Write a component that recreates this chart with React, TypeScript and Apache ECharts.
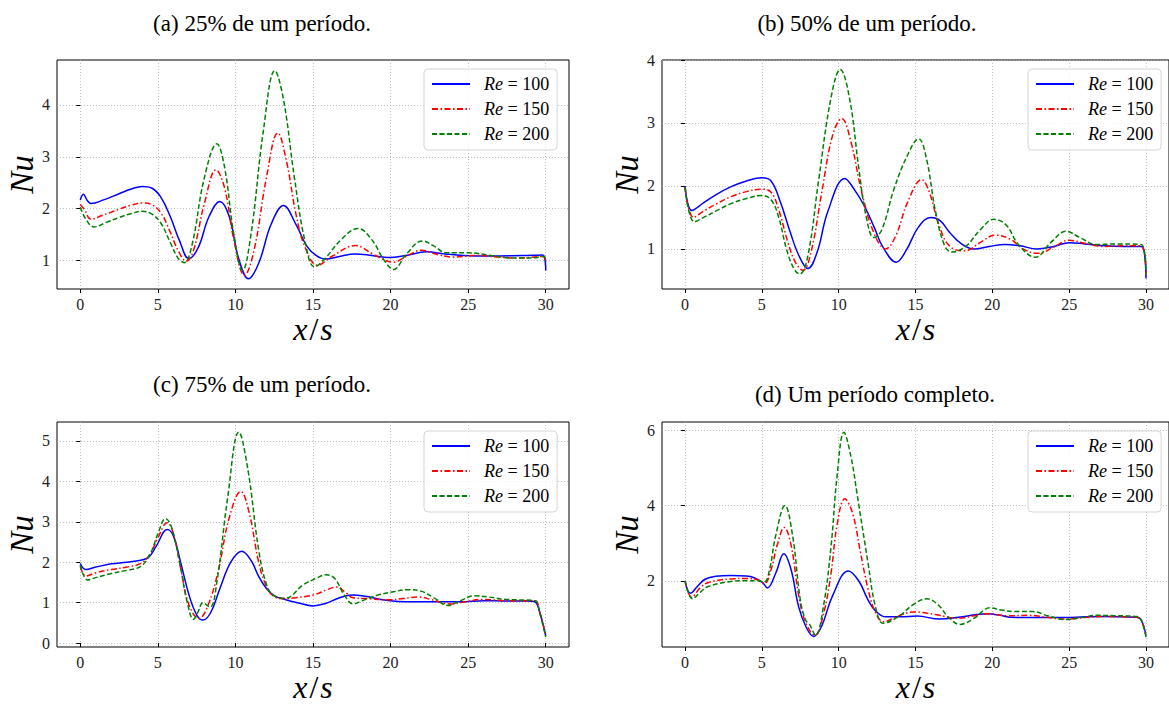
import { useEffect, useRef } from 'react';
import * as echarts from 'echarts';

type P = [number, number][];

const seriesNames = ['Re = 100', 'Re = 150', 'Re = 200'];
const panelTitles = ['(a) 25% de um período.', '(b) 50% de um período.', '(c) 75% de um período.', '(d) Um período completo.'];
const xTicks = [0, 5, 10, 15, 20, 25, 30];
const yTicksA = [1, 2, 3, 4];
const yTicksB = [1, 2, 3, 4];
const yTicksC = [0, 1, 2, 3, 4, 5];
const yTicksD = [2, 4, 6];
const xRange = [-1.5, 31.5];
const yRangeA = [0.454, 4.865];
const yRangeB = [0.364, 4.0];
const yRangeC = [-0.097, 5.47];
const yRangeD = [0.238, 6.225];

// (a) 25%
const a100: P = [[0, 2.17], [0.2, 2.28], [0.45, 2.16], [0.7, 2.1], [1.5, 2.17], [2.5, 2.29], [3.3, 2.38], [4.0, 2.43], [4.6, 2.4], [5.2, 2.22], [5.8, 1.85], [6.4, 1.38], [7.0, 1.04], [7.6, 1.25], [8.3, 1.85], [9.0, 2.14], [9.6, 1.85], [10.2, 1.05], [10.85, 0.65], [11.5, 0.95], [12.3, 1.7], [13.1, 2.06], [13.9, 1.7], [14.6, 1.28], [15.2, 1.1], [15.8, 1.03], [16.7, 1.08], [17.7, 1.13], [18.8, 1.1], [19.9, 1.06], [21.0, 1.1], [22.3, 1.17], [23.5, 1.13], [24.7, 1.1], [26.5, 1.09], [28.5, 1.1], [29.8, 1.11], [30, 0.81]];
const a150: P = [[0, 2.08], [0.3, 1.97], [0.67, 1.8], [1.5, 1.88], [2.5, 1.99], [3.3, 2.07], [4.0, 2.11], [4.6, 2.08], [5.2, 1.92], [5.8, 1.55], [6.3, 1.2], [6.83, 0.99], [7.3, 1.2], [8.0, 2.1], [8.75, 2.75], [9.3, 2.4], [9.9, 1.4], [10.58, 0.72], [11.2, 1.2], [12.0, 2.6], [12.73, 3.46], [13.3, 2.9], [13.9, 1.9], [14.5, 1.25], [15.3, 0.91], [16.2, 1.08], [17.75, 1.29], [18.9, 1.12], [20.2, 0.97], [21.0, 1.08], [22.0, 1.2], [23.0, 1.12], [24.0, 1.07], [25.5, 1.1], [27.0, 1.07], [28.3, 1.05], [29.8, 1.08], [30, 1.02]];
const a200: P = [[0, 2.03], [0.4, 1.78], [0.9, 1.65], [1.7, 1.74], [2.5, 1.83], [3.3, 1.91], [4.0, 1.95], [4.6, 1.9], [5.2, 1.72], [5.8, 1.35], [6.3, 1.05], [6.7, 0.96], [7.2, 1.3], [8.0, 2.6], [8.8, 3.25], [9.3, 2.8], [9.9, 1.5], [10.46, 0.81], [11.0, 1.5], [11.8, 3.5], [12.54, 4.66], [13.1, 4.1], [13.8, 2.6], [14.5, 1.35], [15.1, 0.88], [15.8, 1.05], [16.8, 1.4], [17.9, 1.62], [18.8, 1.4], [19.6, 1.0], [20.2, 0.83], [21.0, 1.12], [22.05, 1.38], [22.8, 1.28], [23.6, 1.15], [25.0, 1.15], [26.5, 1.1], [27.8, 1.05], [29.0, 1.05], [29.9, 1.08], [30, 0.98]];

// (b) 50%
const b100: P = [[0, 2.0], [0.44, 1.61], [1.2, 1.73], [2.0, 1.86], [3.0, 1.99], [4.0, 2.08], [5.0, 2.13], [5.6, 2.08], [6.2, 1.75], [6.8, 1.3], [7.4, 0.9], [8.0, 0.69], [8.6, 0.95], [9.3, 1.6], [10.4, 2.12], [11.0, 1.95], [11.7, 1.67], [12.3, 1.35], [12.9, 1.02], [13.75, 0.79], [14.4, 0.98], [15.2, 1.35], [16.0, 1.5], [16.6, 1.45], [17.2, 1.27], [18.0, 1.08], [18.8, 1.0], [19.8, 1.04], [20.8, 1.07], [21.8, 1.05], [22.9, 1.0], [24.0, 1.04], [25.0, 1.1], [26.0, 1.08], [27.3, 1.05], [28.5, 1.04], [29.7, 1.04], [30, 0.53]];
const b150: P = [[0, 1.98], [0.55, 1.5], [1.2, 1.6], [2.0, 1.71], [3.0, 1.83], [4.0, 1.91], [5.0, 1.95], [5.6, 1.9], [6.1, 1.62], [6.7, 1.1], [7.2, 0.78], [7.67, 0.66], [8.2, 0.95], [8.9, 1.9], [9.6, 2.8], [10.2, 3.07], [10.8, 2.7], [11.5, 1.9], [12.3, 1.25], [13.05, 1.0], [13.7, 1.2], [14.5, 1.75], [15.4, 2.1], [15.9, 1.9], [16.5, 1.4], [17.2, 1.05], [18.2, 0.97], [19.2, 1.1], [20.2, 1.22], [21.2, 1.15], [22.0, 1.0], [23.0, 0.93], [24.0, 1.03], [25.0, 1.14], [26.0, 1.09], [27.3, 1.04], [28.5, 1.05], [29.7, 1.05], [30, 0.6]];
const b200: P = [[0, 1.98], [0.6, 1.43], [1.2, 1.5], [2.0, 1.6], [3.0, 1.72], [4.0, 1.8], [5.0, 1.85], [5.6, 1.78], [6.1, 1.5], [6.6, 1.0], [7.1, 0.68], [7.47, 0.6], [8.0, 0.9], [8.7, 2.1], [9.5, 3.4], [10.1, 3.85], [10.7, 3.4], [11.3, 2.3], [11.8, 1.5], [12.3, 1.18], [12.8, 1.3], [13.6, 1.95], [14.5, 2.5], [15.2, 2.75], [15.7, 2.45], [16.3, 1.6], [16.9, 1.05], [17.4, 0.95], [18.3, 1.05], [19.2, 1.3], [20.1, 1.47], [20.9, 1.38], [21.7, 1.07], [22.8, 0.87], [23.8, 1.1], [24.8, 1.28], [25.7, 1.18], [26.8, 1.07], [28.0, 1.08], [29.7, 1.07], [30, 0.6]];

// (c) 75%
const c100: P = [[0, 1.97], [0.36, 1.82], [1.0, 1.88], [2.0, 1.96], [3.0, 2.0], [3.9, 2.05], [4.4, 2.12], [4.9, 2.4], [5.6, 2.81], [6.0, 2.65], [6.5, 1.95], [7.0, 1.2], [7.5, 0.7], [7.9, 0.57], [8.4, 0.75], [9.0, 1.35], [9.7, 2.0], [10.4, 2.27], [11.0, 2.05], [11.5, 1.65], [12.0, 1.35], [12.5, 1.17], [13.2, 1.08], [14.0, 1.0], [15.0, 0.92], [15.8, 0.98], [16.7, 1.12], [17.5, 1.19], [18.5, 1.15], [19.5, 1.07], [20.5, 1.03], [21.5, 1.02], [23.0, 1.02], [24.5, 1.02], [26.0, 1.05], [27.5, 1.04], [28.8, 1.04], [29.3, 1.02], [29.6, 0.78], [30, 0.18]];
const c150: P = [[0, 1.9], [0.36, 1.66], [1.0, 1.74], [2.0, 1.82], [3.0, 1.88], [3.9, 1.97], [4.5, 2.2], [5.0, 2.6], [5.6, 2.98], [6.0, 2.7], [6.5, 1.8], [7.0, 0.95], [7.65, 0.61], [8.2, 0.9], [8.9, 1.8], [9.6, 3.1], [10.35, 3.75], [10.9, 3.2], [11.5, 2.0], [12.0, 1.4], [12.5, 1.15], [13.1, 1.1], [13.9, 1.12], [15.1, 1.2], [15.9, 1.32], [16.55, 1.39], [17.1, 1.25], [17.6, 1.12], [18.5, 1.1], [19.9, 1.07], [20.8, 1.1], [21.8, 1.14], [22.6, 1.08], [23.8, 0.97], [24.8, 1.02], [25.9, 1.08], [27.5, 1.05], [29.3, 1.05], [29.6, 0.78], [30, 0.18]];
const c200: P = [[0, 1.93], [0.48, 1.56], [1.0, 1.62], [2.0, 1.72], [3.0, 1.8], [3.9, 1.9], [4.5, 2.2], [5.0, 2.7], [5.5, 3.08], [5.9, 2.85], [6.4, 2.0], [6.9, 1.0], [7.3, 0.59], [7.6, 0.78], [7.9, 1.0], [8.36, 0.89], [8.8, 1.5], [9.5, 3.6], [10.22, 5.22], [10.8, 4.3], [11.5, 2.3], [12.0, 1.45], [12.4, 1.2], [13.2, 1.11], [14.4, 1.45], [15.2, 1.6], [15.83, 1.69], [16.4, 1.6], [17.0, 1.2], [17.6, 0.97], [18.2, 1.05], [19.2, 1.19], [20.2, 1.27], [21.1, 1.32], [22.0, 1.28], [22.8, 1.12], [23.7, 0.93], [24.5, 1.05], [25.4, 1.17], [26.3, 1.14], [27.5, 1.08], [29.3, 1.05], [29.6, 0.76], [30, 0.15]];

// (d) full period
const d100: P = [[0, 2.0], [0.36, 1.67], [0.8, 1.85], [1.3, 2.04], [2.0, 2.12], [3.0, 2.14], [4.0, 2.13], [4.5, 2.08], [5.05, 1.95], [5.36, 1.81], [5.9, 2.2], [6.43, 2.72], [6.9, 2.3], [7.4, 1.3], [7.9, 0.75], [8.37, 0.52], [8.9, 0.8], [9.6, 1.6], [10.63, 2.26], [11.3, 2.0], [11.9, 1.5], [12.4, 1.2], [13.06, 1.04], [14.0, 1.04], [15.1, 1.06], [16.58, 0.98], [17.8, 1.03], [19.0, 1.1], [19.7, 1.12], [20.5, 1.08], [21.2, 1.03], [23.0, 1.02], [24.8, 1.02], [26.0, 1.04], [27.3, 1.05], [28.5, 1.04], [29.4, 1.03], [29.7, 0.95], [30, 0.55]];
const d150: P = [[0, 2.0], [0.44, 1.56], [1.0, 1.82], [1.5, 1.95], [3.0, 2.05], [4.0, 2.06], [4.7, 2.03], [5.17, 1.93], [5.6, 2.3], [6.0, 2.95], [6.46, 3.42], [6.9, 2.95], [7.4, 1.6], [7.84, 0.9], [8.45, 0.55], [9.0, 1.1], [9.5, 2.2], [9.9, 3.5], [10.4, 4.18], [10.9, 3.8], [11.4, 2.8], [11.9, 1.8], [12.4, 1.15], [12.94, 0.91], [13.8, 1.05], [14.9, 1.17], [16.3, 1.1], [17.8, 1.0], [18.8, 1.07], [19.7, 1.12], [21.0, 1.07], [22.4, 1.08], [23.5, 1.03], [24.8, 0.98], [26.0, 1.02], [27.3, 1.05], [28.5, 1.04], [29.4, 1.03], [29.7, 0.95], [30, 0.55]];
const d200: P = [[0, 2.0], [0.49, 1.52], [1.0, 1.7], [1.5, 1.85], [3.0, 1.98], [4.0, 2.0], [4.7, 2.0], [5.17, 1.97], [5.5, 2.3], [5.9, 3.2], [6.5, 4.0], [7.0, 3.2], [7.5, 1.5], [7.85, 0.95], [8.1, 0.84], [8.5, 0.55], [9.0, 1.3], [9.5, 2.9], [9.9, 4.8], [10.34, 5.95], [10.8, 5.3], [11.2, 4.3], [11.9, 2.5], [12.4, 1.3], [12.9, 0.87], [13.9, 1.05], [14.8, 1.35], [15.73, 1.52], [16.5, 1.35], [17.1, 1.05], [17.9, 0.84], [18.8, 1.0], [19.85, 1.28], [20.6, 1.22], [21.5, 1.18], [22.65, 1.18], [23.6, 1.07], [24.8, 0.97], [25.8, 1.02], [26.8, 1.08], [28.0, 1.07], [29.4, 1.05], [29.7, 0.95], [30, 0.5]];

export default function App() {
  const ref = useRef<HTMLDivElement>(null);
  useEffect(() => {
    document.body.style.margin = '0';
    const chart = echarts.init(ref.current!, undefined, { renderer: 'svg' });
    const serif = 'Liberation Serif';
    const grids = [
      { left: 57, top: 60, width: 512, height: 229 },
      { left: 662, top: 60, width: 510, height: 229 },
      { left: 57, top: 422, width: 512, height: 229 },
      { left: 662, top: 422, width: 510, height: 229 },
    ];
    const yRanges = [yRangeA, yRangeB, yRangeC, yRangeD];
    const yTicks = [yTicksA, yTicksB, yTicksC, yTicksD];
    const data = [[a100, a150, a200], [b100, b150, b200], [c100, c150, c200], [d100, d150, d200]];
    const colors = ['#0000ff', '#ff0000', '#008000'];
    const dashes: any[] = ['solid', [6, 2.5, 1.5, 2.5], [5, 2.5]];
    const legendPos = [{ left: 424, top: 69 }, { left: 1028, top: 69 }, { left: 424, top: 431 }, { left: 1028, top: 431 }];
    const titlePos = [[262, 23], [867, 23], [262, 384], [875, 394]];
    const splitLine = { show: true, lineStyle: { color: '#b0b0b0', width: 0.8, type: [1, 2] } };

    const option: any = {
      animation: false,
      backgroundColor: '#fff',
      textStyle: { fontFamily: serif },
      title: panelTitles.map((t, i) => ({
        text: t, left: titlePos[i][0], top: titlePos[i][1] - 12, textAlign: 'center', padding: 0,
        textStyle: { fontFamily: serif, fontSize: 23, fontWeight: 'normal', color: '#000', lineHeight: 24 },
      })),
      grid: grids.map(g => ({ ...g, show: true, borderColor: '#000', borderWidth: 1, backgroundColor: 'transparent' })),
      xAxis: grids.map((_, i) => ({
        type: 'value', gridIndex: i, min: xRange[0], max: xRange[1],
        name: '{i|x}{n|/}{i|s}', nameLocation: 'middle', nameGap: 24,
        nameTextStyle: {
          fontFamily: serif, fontSize: 32, color: '#000',
          rich: {
            i: { fontFamily: serif, fontSize: 32, fontStyle: 'italic', color: '#000' },
            n: { fontFamily: serif, fontSize: 32, color: '#000', padding: [0, 2] },
          },
        },
        axisLine: { show: false },
        axisTick: { show: true, inside: false, length: 4, lineStyle: { color: '#000' }, customValues: xTicks },
        axisLabel: { customValues: xTicks, fontFamily: serif, fontSize: 16, color: '#222', margin: 7 },
        splitLine,
      })),
      yAxis: grids.map((_, i) => ({
        type: 'value', gridIndex: i, min: yRanges[i][0], max: yRanges[i][1],
        name: '{i|Nu}', nameLocation: 'middle', nameGap: 17, nameRotate: 90,
        nameTextStyle: {
          fontFamily: serif, fontSize: 33, color: '#000',
          rich: { i: { fontFamily: serif, fontSize: 33, fontStyle: 'italic', color: '#000' } },
        },
        axisLine: { show: false },
        axisTick: { show: true, inside: false, length: 4, lineStyle: { color: '#000' }, customValues: yTicks[i] },
        axisLabel: { customValues: yTicks[i], fontFamily: serif, fontSize: 16, color: '#222', margin: 7 },
        splitLine,
      })),
      legend: legendPos.map(p => ({
        ...p, orient: 'vertical', data: seriesNames, itemWidth: 38, itemHeight: 14, itemGap: 7,
        padding: [6, 8, 7, 7], backgroundColor: 'rgba(255,255,255,0.8)', borderColor: '#d5d5d5', borderWidth: 1, borderRadius: 4,
        selectedMode: false,
        itemStyle: { color: 'rgba(0,0,0,0)', borderColor: 'rgba(0,0,0,0)', borderWidth: 0, opacity: 0 },
        formatter: (n: string) => '{i|Re}' + n.slice(2),
        textStyle: {
          fontFamily: serif, fontSize: 18, color: '#000', padding: [0, 0, 0, 9],
          rich: { i: { fontFamily: serif, fontStyle: 'italic', fontSize: 18, color: '#000' } },
        },
      })),
      series: data.flatMap((group, gi) => group.map((pts, si) => ({
        type: 'line', name: seriesNames[si], xAxisIndex: gi, yAxisIndex: gi, data: pts,
        showSymbol: false, symbol: 'none', smooth: 0.4, clip: true,
        lineStyle: { color: colors[si], width: 1.5, type: dashes[si] },
        itemStyle: { color: colors[si] }, z: 2 + si,
      }))),
    };
    chart.setOption(option);
    return () => chart.dispose();
  }, []);
  return <div ref={ref} style={{ position: 'absolute', left: 0, top: 0, width: 1169, height: 704 }} />;
}
